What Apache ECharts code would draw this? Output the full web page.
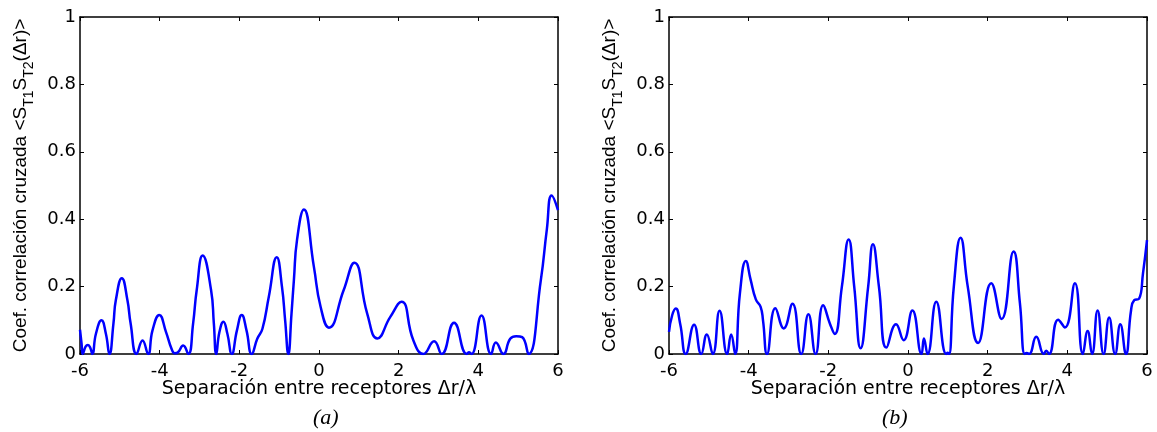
<!DOCTYPE html>
<html>
<head>
<meta charset="utf-8">
<script src="https://cdn.jsdelivr.net/npm/echarts@6/dist/echarts.min.js"></script>
<style>
  html, body { margin: 0; padding: 0; background: #fff; }
  #chart { width: 1157px; height: 432px; }
</style>
</head>
<body>
<div id="chart"></div>
<script>
// x ticks / y ticks
let xTicks = [-6, -4, -2, 0, 2, 4, 6];
let yTicks = [0, 0.2, 0.4, 0.6, 0.8, 1];

// panel (a): separation (dr/lambda) and correlation coefficient
let xA = [-6.00, -5.96, -5.93, -5.86, -5.80, -5.74, -5.69, -5.60, -5.46, -5.35, -5.26, -5.16, -5.10, -4.95, -4.81,
    -4.73, -4.58, -4.43, -4.29, -4.18, -4.01, -3.84, -3.70, -3.62, -3.55, -3.41, -3.28, -3.16, -3.07, -2.92, -2.71,
    -2.64, -2.58, -2.50, -2.40, -2.30, -2.19, -2.06, -1.94, -1.82, -1.69, -1.55, -1.42, -1.26, -1.06, -0.93, -0.85,
    -0.77, -0.69, -0.63, -0.55, -0.38, -0.13, 0.04, 0.25, 0.62, 0.887, 1.21, 1.466, 1.79, 2.07, 2.37, 2.62,
    2.89, 3.08, 3.39, 3.71, 3.77, 3.83, 4.08, 4.32, 4.44, 4.63, 4.80, 4.95, 5.10, 5.26, 5.57, 5.72,
    5.84, 6.00];
let yA = [0.072, 0.03, 0.0, 0.022, 0.027, 0.018, 0.0, 0.06, 0.10, 0.06, 0.0, 0.091, 0.16, 0.225, 0.16,
    0.091, 0.0, 0.04, 0.0, 0.07, 0.116, 0.065, 0.015, 0.002, 0.004, 0.025, 0.0, 0.091, 0.19, 0.292, 0.19,
    0.091, 0.0, 0.065, 0.096, 0.06, 0.0, 0.07, 0.116, 0.07, 0.0, 0.045, 0.075, 0.17, 0.287, 0.2, 0.1,
    0.0, 0.12, 0.22, 0.34, 0.429, 0.26, 0.14, 0.078, 0.19, 0.271, 0.12, 0.046, 0.11, 0.155, 0.04, 0.0,
    0.038, 0.0, 0.093, 0.0, 0.005, 0.0, 0.114, 0.0, 0.034, 0.0, 0.045, 0.053, 0.05, 0.0, 0.22, 0.37,
    0.47, 0.427];

// panel (b)
let xB = [-6.00, -5.92, -5.83, -5.72, -5.58, -5.37, -5.19, -5.05, -4.90, -4.73, -4.54, -4.44, -4.34, -4.22, -4.07,
    -3.95, -3.82, -3.70, -3.64, -3.54, -3.33, -3.12, -2.90, -2.68, -2.50, -2.32, -2.13, -1.96, -1.84, -1.66, -1.49,
    -1.35, -1.19, -1.00, -0.88, -0.73, -0.54, -0.30, -0.11, 0.11, 0.34, 0.40, 0.49, 0.71, 0.96, 1.00, 1.03,
    1.15, 1.32, 1.50, 1.76, 2.09, 2.35, 2.65, 2.81, 2.93, 2.98, 3.04, 3.22, 3.41, 3.47, 3.54, 3.77, 3.94, 4.19,
    4.39, 4.51, 4.62, 4.76, 4.91, 5.05, 5.20, 5.33, 5.47, 5.60, 5.68, 5.80, 5.90, 6.00];
let yB = [0.066, 0.115, 0.135, 0.09, 0.0, 0.087, 0.0, 0.058, 0.0, 0.128, 0.0, 0.058, 0.0, 0.18, 0.276,
    0.22, 0.162, 0.14, 0.10, 0.0, 0.136, 0.076, 0.149, 0.0, 0.118, 0.0, 0.145, 0.09, 0.059, 0.2, 0.340,
    0.2, 0.017, 0.2, 0.326, 0.2, 0.019, 0.088, 0.041, 0.129, 0.0, 0.046, 0.0, 0.155, 0.0, 0.004, 0.0,
    0.2, 0.345, 0.2, 0.033, 0.21, 0.104, 0.304, 0.15, 0.0, 0.003, 0.0, 0.051, 0.0, 0.01, 0.0, 0.102, 0.079, 0.210,
    0.0, 0.068, 0.0, 0.129, 0.0, 0.108, 0.0, 0.088, 0.0, 0.13, 0.16, 0.164, 0.24, 0.338];

let xTitle = 'Separación entre receptores Δr/λ';
let yTitle = '{n|Coef. correlación cruzada <S}{s|T1}{n|S}{s|T2}{n|(Δr)>}';
let panelLabels = ['(a)', '(b)'];

function zip(xs, ys) {
    return xs.map(function (x, i) { return [x, ys[i]]; });
}

let font = 'DejaVu Sans';
let black = '#000';

function bottomAxis(gi) {
    return {
        type: 'value', gridIndex: gi, position: 'bottom',
        min: xTicks[0], max: xTicks[xTicks.length - 1], interval: 2,
        axisLine: { show: true, onZero: false, lineStyle: { color: black, width: 1.5 } },
        axisTick: { show: true, inside: true, length: 4, lineStyle: { color: black, width: 1 } },
        axisLabel: { show: true, margin: 8, color: black, fontFamily: font, fontSize: 18 },
        splitLine: { show: false },
        name: xTitle, nameLocation: 'middle', nameGap: 26, nameMoveOverlap: false,
        nameTextStyle: { color: black, fontFamily: font, fontSize: 19, verticalAlign: 'top' }
    };
}

function topAxis(gi) {
    return {
        type: 'value', gridIndex: gi, position: 'top',
        min: xTicks[0], max: xTicks[xTicks.length - 1], interval: 2,
        axisLine: { show: true, onZero: false, lineStyle: { color: black, width: 1.5 } },
        axisTick: { show: true, inside: true, length: 4, lineStyle: { color: black, width: 1 } },
        axisLabel: { show: false },
        splitLine: { show: false }
    };
}

function leftAxis(gi) {
    return {
        type: 'value', gridIndex: gi, position: 'left',
        min: yTicks[0], max: yTicks[yTicks.length - 1], interval: 0.2,
        axisLine: { show: true, onZero: false, lineStyle: { color: black, width: 1.5 } },
        axisTick: { show: true, inside: true, length: 4, lineStyle: { color: black, width: 1 } },
        axisLabel: { show: true, margin: 4, color: black, fontFamily: font, fontSize: 18 },
        splitLine: { show: false },
        name: yTitle, nameLocation: 'middle', nameGap: 44, nameRotate: 90, nameMoveOverlap: false,
        nameTextStyle: {
            color: black,
            rich: {
                n: { fontFamily: 'Liberation Sans', fontSize: 19, lineHeight: 30, color: black },
                s: { fontFamily: 'Liberation Sans', fontSize: 14, lineHeight: 12, verticalAlign: 'bottom', color: black }
            }
        }
    };
}

function rightAxis(gi) {
    return {
        type: 'value', gridIndex: gi, position: 'right',
        min: yTicks[0], max: yTicks[yTicks.length - 1], interval: 0.2,
        axisLine: { show: true, onZero: false, lineStyle: { color: black, width: 1.5 } },
        axisTick: { show: true, inside: true, length: 4, lineStyle: { color: black, width: 1 } },
        axisLabel: { show: false },
        splitLine: { show: false }
    };
}

function curve(data, ai) {
    return {
        type: 'line', xAxisIndex: ai * 2, yAxisIndex: ai * 2,
        data: data, showSymbol: false, smooth: 0.5,
        lineStyle: { color: '#0000ff', width: 2.5 },
        clip: true
    };
}

let chart = echarts.init(document.getElementById('chart'), null, { renderer: 'canvas' });
let option = {
    animation: false,
    backgroundColor: '#fff',
    grid: [
        { left: 80, top: 17, width: 478, height: 337 },
        { left: 669, top: 17, width: 478, height: 337 }
    ],
    xAxis: [bottomAxis(0), topAxis(0), bottomAxis(1), topAxis(1)],
    yAxis: [leftAxis(0), rightAxis(0), leftAxis(1), rightAxis(1)],
    graphic: [
        { type: 'text', left: 313, top: 407, style: { text: panelLabels[0], font: 'italic 22px "Liberation Serif"', fill: black } },
        { type: 'text', left: 882, top: 407, style: { text: panelLabels[1], font: 'italic 22px "Liberation Serif"', fill: black } }
    ],
    series: [curve(zip(xA, yA), 0), curve(zip(xB, yB), 1)]
};
chart.setOption(option);
</script>
</body>
</html>
